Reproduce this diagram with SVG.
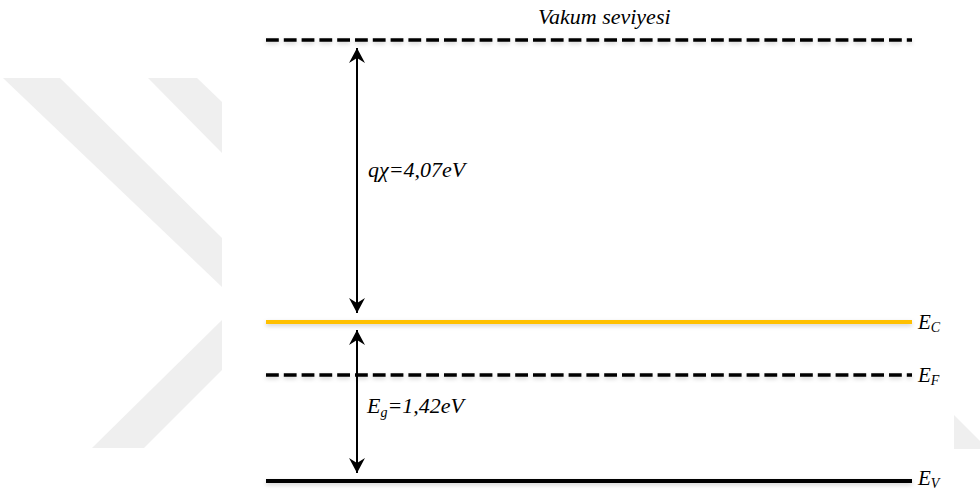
<svg xmlns="http://www.w3.org/2000/svg" width="980" height="493" viewBox="0 0 980 493">
<style>
.wm{fill:#efefef}
.lbl{font-family:"Liberation Serif","Times New Roman","DejaVu Serif",serif;font-style:italic;font-size:22px;fill:#000}
.lvlbl{font-size:21px}
.sub{font-size:14px}
.lvl{fill:none;stroke-linecap:butt;filter:url(#sh)}
.dash{stroke:#000;stroke-width:3.5;stroke-dasharray:12.8 5}
.arr{stroke:#000;stroke-width:2;fill:none;marker-start:url(#ah);marker-end:url(#ah)}
</style>
<defs>
<filter id="sh" filterUnits="userSpaceOnUse" x="250" y="0" width="700" height="493">
<feDropShadow dx="0" dy="2" stdDeviation="2" flood-color="#000" flood-opacity="0.18"/>
</filter>
<marker id="ah" viewBox="0 0 15 16" refX="15" refY="8" markerWidth="15" markerHeight="16" markerUnits="userSpaceOnUse" orient="auto-start-reverse">
<path d="M0,0 L15,8 L0,16 L5,8 Z" fill="#000"/>
</marker>
</defs>
<rect width="980" height="493" fill="#fff"/>
<g id="watermark">
<polygon class="wm" points="3,78 60,78 222,238 222,287"/>
<polygon class="wm" points="148,78 197,78 222,102 222,153"/>
<polygon class="wm" points="222,320 222,370 144,448 92,448"/>
<polygon class="wm" points="954,415 980,441 980,449 954,449"/>
</g>
<rect x="222" y="0" width="732" height="493" fill="#fff"/>
<g id="vacuum">
<line class="lvl dash" x1="266" y1="40" x2="912" y2="40"/>
<text class="lbl" x="538" y="24">Vakum seviyesi</text>
</g>
<g id="Ec">
<line class="lvl" x1="266" y1="322" x2="912" y2="322" stroke="#FFC000" stroke-width="4"/>
<text class="lbl lvlbl" x="918" y="329">E<tspan class="sub" dy="3">C</tspan></text>
</g>
<g id="Ef">
<line class="lvl dash" x1="266" y1="375" x2="912" y2="375"/>
<text class="lbl lvlbl" x="918" y="382">E<tspan class="sub" dy="3">F</tspan></text>
</g>
<g id="Ev">
<line class="lvl" x1="266" y1="481" x2="912" y2="481" stroke="#000" stroke-width="4"/>
<text class="lbl lvlbl" x="918" y="485">E<tspan class="sub" dy="3">V</tspan></text>
</g>
<g id="connectors">
<line class="arr" x1="357" y1="48" x2="357" y2="313"/>
<line class="arr" x1="357" y1="330" x2="357" y2="473"/>
</g>
<g id="labels">
<text class="lbl" x="368" y="177">qχ=4,07eV</text>
<text class="lbl" x="367" y="413">E<tspan class="sub" dy="4">g</tspan><tspan dy="-4">=1,42eV</tspan></text>
</g>
</svg>
